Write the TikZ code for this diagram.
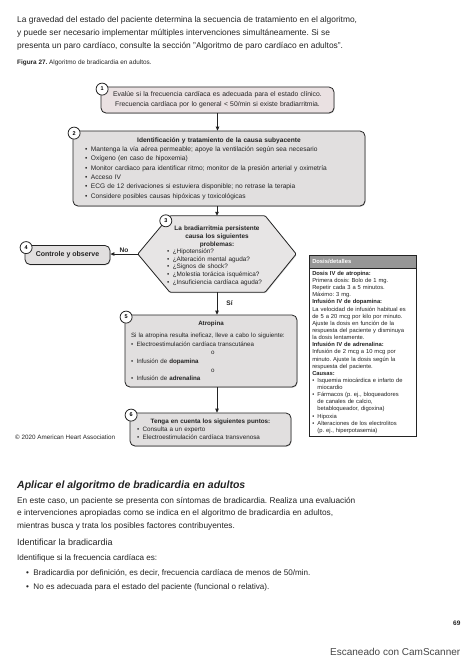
\documentclass[tikz,border=0pt]{standalone}
\usepackage{fontspec}
\setmainfont{Liberation Sans}
\usetikzlibrary{arrows.meta, positioning, calc, shadows}
\definecolor{inkgray}{RGB}{35,35,35}
\definecolor{boxpink}{RGB}{234,225,226}
\definecolor{boxgray}{RGB}{225,223,223}
\definecolor{hexgray}{RGB}{231,229,229}
\definecolor{headgray}{RGB}{150,150,150}
\definecolor{scangray}{RGB}{70,70,70}
\newcommand{\fsz}[2]{\fontsize{#1}{#2}\selectfont}
\newcommand{\bul}{\makebox[0.9em][l]{\textbullet}}
\frenchspacing

\begin{document}
\begin{tikzpicture}[
    x=1pt, y=-1pt,
    stepbox/.style={rectangle, draw=inkgray, line width=0.8pt, fill=#1, rounded corners=5pt, drop shadow={shadow xshift=0.6pt, shadow yshift=-0.9pt, opacity=0.35}, inner ysep=0pt, text=inkgray},
    hexshape/.style={draw=inkgray, line width=0.8pt, fill=hexgray, rounded corners=1pt, drop shadow={shadow xshift=0.6pt, shadow yshift=-0.9pt, opacity=0.35}},
    numdot/.style={circle, draw=inkgray, line width=0.8pt, fill=white, minimum size=12pt, inner sep=0pt, font=\fsz{5.5}{6}\bfseries},
    flow/.style={-{Triangle[length=4pt, width=3.6pt]}, line width=0.9pt, draw=inkgray},
    bodytext/.style={inner sep=0pt, anchor=north west, align=left, text=inkgray},
    tag/.style={font=\fsz{6.6}{7}\bfseries, text=inkgray, inner sep=1pt}
]
\useasboundingbox (0,0) rectangle (474,670);

% page text above the figure
\node[bodytext, font=\fsz{8.4}{13}] (intro) at (17,16) {La gravedad del estado del paciente determina la secuencia de tratamiento en el algoritmo,\\ y puede ser necesario implementar múltiples intervenciones simultáneamente. Si se\\ presenta un paro cardíaco, consulte la sección "Algoritmo de paro cardíaco en adultos".};
\node[bodytext, font=\fsz{6.4}{8}] (caption) at (17,60) {\textbf{Figura 27.} Algoritmo de bradicardia en adultos.};

% Step 1
\node[stepbox=boxpink, minimum width=233, minimum height=26, text width=225, align=center, font=\fsz{6.8}{10}] (q1) at (217.5,100) {Evalúe si la frecuencia cardíaca es adecuada para el estado clínico.\\ Frecuencia cardíaca por lo general < 50/min si existe bradiarritmia.};

% Step 2
\node[stepbox=boxgray, minimum width=292, minimum height=75, text width=268, align=left, font=\fsz{6.6}{9.3}] (q2) at (219,168.5) {{\centering\bfseries Identificación y tratamiento de la causa subyacente\par}\bul Mantenga la vía aérea permeable; apoye la ventilación según sea necesario\\ \bul Oxígeno (en caso de hipoxemia)\\ \bul Monitor cardiaco para identificar ritmo; monitor de la presión arterial y oximetría\\ \bul Acceso IV\\ \bul ECG de 12 derivaciones si estuviera disponible; no retrase la terapia\\ \bul Considere posibles causas hipóxicas y toxicológicas};

% Step 3 (decision)
\node[minimum width=158, minimum height=76, inner sep=0pt] (q3) at (217,254) {};
\draw[hexshape] ($(q3.north west)+(32,0)$) -- ($(q3.north east)+(-31,0)$) -- (q3.east) -- ($(q3.south east)+(-31,0)$) -- ($(q3.south west)+(32,0)$) -- (q3.west) -- cycle;
\node[inner sep=0pt, text width=100, align=left, anchor=north, text=inkgray, font=\fsz{6.4}{7.6}] (q3txt) at (217,226) {{\centering\bfseries La bradiarritmia persistente\\ causa los siguientes\\ problemas:\par}\bul ¿Hipotensión?\\ \bul ¿Alteración mental aguda?\\ \bul ¿Signos de shock?\\ \bul ¿Molestia torácica isquémica?\\ \bul ¿Insuficiencia cardíaca aguda?};

% Step 4
\node[stepbox=boxgray, minimum width=85, minimum height=19, font=\fsz{7}{8}\bfseries] (q4) at (67.5,255) {Controle y observe};

% Step 5
\node[stepbox=boxgray, minimum width=172, minimum height=72, text width=160, align=left, font=\fsz{6.2}{8.6}] (q5) at (211,351) {{\centering\bfseries Atropina\par}\vspace{3.4pt}Si la atropina resulta ineficaz, lleve a cabo lo siguiente:\\ \bul Electroestimulación cardíaca transcutánea\\ \hspace*{80pt}o\\ \bul Infusión de \textbf{dopamina}\\ \hspace*{80pt}o\\ \bul Infusión de \textbf{adrenalina}};

% Step 6
\node[stepbox=boxgray, minimum width=161, minimum height=33, text width=147, align=left, font=\fsz{6.3}{8}] (q6) at (210.5,429.5) {{\centering\bfseries Tenga en cuenta los siguientes puntos:\par}\bul Consulta a un experto\\ \bul Electroestimulación cardíaca transvenosa};

% step numbers
\foreach \n/\k in {q1/1, q2/2, q4/4, q5/5, q6/6}
  \node[numdot] (c\k) at ($(\n.north west)+(1.5,2.5)$) {\k};
\node[numdot] (c3) at ($(q3.north west)+(28,5)$) {3};

% connectors
\draw[flow] (q1.south) -- (q1.south |- q2.north);
\draw[flow] (q3.north |- q2.south) -- (q3.north);
\draw[flow] (q3.west) -- (q3.west -| q4.east) node[midway, above, tag] {No};
\draw[flow] (q3.south) -- (q3.south |- q5.north) node[midway, right=8pt, tag] {Sí};
\draw[flow] (q3.south |- q5.south) -- (q3.south |- q6.north);

% doses panel
\node[draw=inkgray, line width=0.5pt, fill=white, anchor=north west, minimum width=107, text width=101, inner xsep=3pt, inner ysep=3pt, align=left, text=inkgray, font=\fsz{5.8}{7.13}] (dosis) at (309,268) {\textbf{Dosis IV de atropina:}\\ Primera dosis: Bolo de 1 mg.\\ Repetir cada 3 a 5 minutos.\\ Máximo: 3 mg.\\ \textbf{Infusión IV de dopamina:}\\ La velocidad de infusión habitual es\\ de 5 a 20 mcg por kilo por minuto.\\ Ajuste la dosis en función de la\\ respuesta del paciente y disminuya\\ la dosis lentamente.\\ \textbf{Infusión IV de adrenalina:}\\ Infusión de 2 mcg a 10 mcg por\\ minuto. Ajuste la dosis según la\\ respuesta del paciente.\\ \textbf{Causas:}\\ \bul Isquemia miocárdica e infarto de\\ \hspace*{0.9em}miocardio\\ \bul Fármacos (p. ej., bloqueadores\\ \hspace*{0.9em}de canales de calcio,\\ \hspace*{0.9em}betabloqueador, digoxina)\\ \bul Hipoxia\\ \bul Alteraciones de los electrolitos\\ \hspace*{0.9em}(p. ej., hiperpotasemia)};
\node[draw=inkgray, line width=0.5pt, fill=headgray, anchor=south west, minimum width=107, minimum height=13, text width=101, inner xsep=3pt, inner ysep=0pt, align=left, text=white, font=\fsz{5.8}{6}\bfseries] (dosishead) at (dosis.north west) {Dosis/detalles};

\node[bodytext, font=\fsz{6.3}{7}] (copy) at (15,435) {© 2020 American Heart Association};

% page text below the figure
\node[bodytext, font=\fsz{10.5}{12}\bfseries\itshape] (apply) at (17,481) {Aplicar el algoritmo de bradicardia en adultos};
\node[bodytext, font=\fsz{8.3}{12.5}] (applytxt) at (17,497) {En este caso, un paciente se presenta con síntomas de bradicardia. Realiza una evaluación\\ e intervenciones apropiadas como se indica en el algoritmo de bradicardia en adultos,\\ mientras busca y trata los posibles factores contribuyentes.};
\node[bodytext, font=\fsz{9}{11}] (ident) at (17,539) {Identificar la bradicardia};
\node[bodytext, font=\fsz{8.1}{14}] (identtxt) at (17,554) {Identifique si la frecuencia cardíaca es:};
\node[bodytext, font=\fsz{8.1}{14}] (identlist) at (26,569) {\bul Bradicardia por definición, es decir, frecuencia cardíaca de menos de 50/min.\\ \bul No es adecuada para el estado del paciente (funcional o relativa).};
\node[bodytext, font=\fsz{6.5}{7}\bfseries] (pagenum) at (453,621) {69};
\node[bodytext, font=\fsz{10}{12}, text=scangray] (scanner) at (330,648) {Escaneado con CamScanner};
\end{tikzpicture}
\end{document}
